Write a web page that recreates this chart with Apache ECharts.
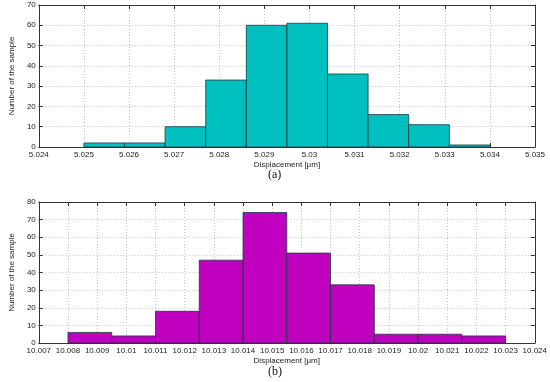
<!DOCTYPE html>
<html><head><meta charset="utf-8">
<script src="https://cdn.jsdelivr.net/npm/echarts@6/dist/echarts.min.js"></script>
<style>html,body{margin:0;padding:0;background:#fff}#c{width:550px;height:382px}</style>
</head><body><div id="c"></div>
<script>
// Panel (a)
var edgesA = [5.025, 5.0259, 5.0268, 5.0277, 5.0286, 5.0295, 5.0304, 5.0313, 5.0322, 5.0331, 5.034];
var countsA = [2, 2, 10, 33, 60, 61, 36, 16, 11, 1];
var xTicksA = {min: 5.024, max: 5.035, step: 0.001};
var yTicksA = {min: 0, max: 70, step: 10};
// Panel (b)
var edgesB = [10.008, 10.0095, 10.011, 10.0125, 10.014, 10.0155, 10.017, 10.0185, 10.02, 10.0215, 10.023];
var countsB = [6, 4, 18, 47, 74, 51, 33, 5, 5, 4];
var xTicksB = {min: 10.007, max: 10.024, step: 0.001};
var yTicksB = {min: 0, max: 80, step: 10};
var xTitle = 'Displacement [\u03bcm]';
var yTitle = 'Number of the sample';
var captions = ['(a)', '(b)'];

function bins(edges, counts) {
  return counts.map(function (c, i) { return [edges[i], edges[i + 1], c]; });
}
var font = 'Liberation Sans, Arial, sans-serif';
var txt = '#222';
function xAx(gi, t, show) {
  return {
    type: 'value', gridIndex: gi, min: t.min, max: t.max, interval: t.step,
    position: show ? 'bottom' : 'top',
    axisLine: {show: true, onZero: false, lineStyle: {color: '#333', width: 1}},
    axisTick: {show: true, inside: true, length: 4, lineStyle: {color: '#333'}},
    axisLabel: {show: show, color: txt, fontSize: 8, fontFamily: font, margin: 4,
      formatter: function (v) { return String(+v.toFixed(3)); }},
    splitLine: {show: show, lineStyle: {type: [1, 2], color: '#c4c4c4'}},
    name: show ? xTitle : '', nameLocation: 'middle', nameGap: 14,
    nameTextStyle: {color: txt, fontSize: 8, fontFamily: font}
  };
}
function yAx(gi, t, show) {
  return {
    type: 'value', gridIndex: gi, min: t.min, max: t.max, interval: t.step,
    position: show ? 'left' : 'right',
    axisLine: {show: true, lineStyle: {color: '#333', width: 1}},
    axisTick: {show: true, inside: true, length: 4, lineStyle: {color: '#333'}},
    axisLabel: {show: show, color: txt, fontSize: 8, fontFamily: font, margin: 3},
    splitLine: {show: show, lineStyle: {type: [1, 2], color: '#c4c4c4'}},
    name: show ? yTitle : '', nameLocation: 'middle', nameGap: 18,
    nameTextStyle: {color: txt, fontSize: 8, fontFamily: font}
  };
}
function renderBar(color) {
  return function (params, api) {
    var p0 = api.coord([api.value(0), api.value(2)]);
    var p1 = api.coord([api.value(1), 0]);
    return {type: 'rect', shape: {x: p0[0], y: p0[1], width: p1[0] - p0[0], height: p1[1] - p0[1]},
      style: {fill: color, stroke: '#1a3a3a', lineWidth: 0.8}};
  };
}
var chart = echarts.init(document.getElementById('c'), null, {renderer: 'canvas'});
chart.setOption({
  animation: false,
  backgroundColor: '#fff',
  grid: [
    {left: 26, top: 5, width: 509, height: 142},
    {left: 25, top: 202, width: 510, height: 141}
  ],
  xAxis: [xAx(0, xTicksA, true), xAx(0, xTicksA, false), xAx(1, xTicksB, true), xAx(1, xTicksB, false)],
  yAxis: [yAx(0, yTicksA, true), yAx(0, yTicksA, false), yAx(1, yTicksB, true), yAx(1, yTicksB, false)],
  graphic: [
    {type: 'text', left: 268, top: 169, style: {text: captions[0], fill: '#111', font: '12px Liberation Serif, serif'}},
    {type: 'text', left: 268, top: 366, style: {text: captions[1], fill: '#111', font: '12px Liberation Serif, serif'}}
  ],
  series: [
    {type: 'custom', xAxisIndex: 0, yAxisIndex: 0, data: bins(edgesA, countsA),
      encode: {x: [0, 1], y: 2}, renderItem: renderBar('#00bfbf')},
    {type: 'custom', xAxisIndex: 2, yAxisIndex: 2, data: bins(edgesB, countsB),
      encode: {x: [0, 1], y: 2}, renderItem: renderBar('#bf00bf')}
  ]
});
</script></body></html>
